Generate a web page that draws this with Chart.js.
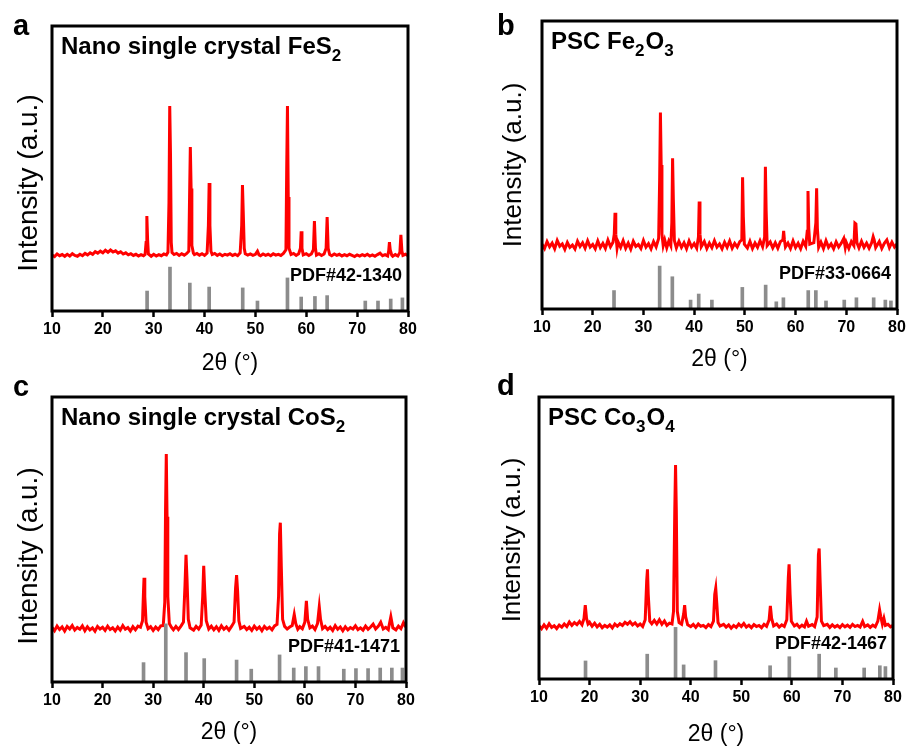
<!DOCTYPE html>
<html>
<head>
<meta charset="utf-8">
<script src="https://cdn.jsdelivr.net/npm/chart.js@4.4.0/dist/chart.umd.min.js"></script>
<style>
  body { margin: 0; background: #fff; }
  #wrap { position: relative; width: 909px; height: 751px; }
  canvas { position: absolute; left: 0; top: 0; }
</style>
</head>
<body>
<div id="wrap">
  <canvas id="chartA" width="909" height="751"></canvas>
  <canvas id="chartB" width="909" height="751"></canvas>
  <canvas id="chartC" width="909" height="751"></canvas>
  <canvas id="chartD" width="909" height="751"></canvas>
</div>
<script>
// Zakres osi 2θ
const twoThetaMin = 10;
const twoThetaMax = 80;
const twoThetaStep = 10;

// a - FeS2: zmierzony dyfraktogram [2θ, intensywność]
const feS2Pattern = [
  [10.0, 19.6], [10.5, 19.1], [11.0, 20.0], [11.5, 19.4], [12.0, 19.8], [12.5, 19.2], [13.0, 19.9], [13.5, 19.3],
  [14.0, 20.1], [14.5, 19.5], [15.0, 19.2], [15.5, 19.9], [16.0, 19.4], [16.5, 20.2], [17.0, 19.7], [17.5, 20.4],
  [18.0, 19.9], [18.5, 20.8], [19.0, 20.3], [19.5, 21.0], [20.0, 20.4], [20.5, 21.3], [21.0, 20.6], [21.5, 21.4],
  [22.0, 20.7], [22.5, 21.1], [23.0, 20.3], [23.5, 20.8], [24.0, 20.0], [24.5, 20.4], [25.0, 19.7], [25.5, 20.1],
  [26.0, 19.5], [26.5, 19.9], [27.0, 19.3], [27.5, 19.8], [28.0, 19.4], [28.3, 19.8], [28.5, 24.0], [28.65, 33.3],
  [28.8, 25.0], [28.95, 20.0], [29.5, 19.2], [30.0, 19.9], [30.5, 19.3], [31.0, 19.8], [31.5, 19.4], [32.0, 20.0],
  [32.5, 19.7], [32.8, 20.6], [33.0, 38.0], [33.15, 71.9], [33.3, 55.0], [33.45, 24.0], [33.6, 20.5], [34.0, 19.8],
  [34.5, 20.2], [35.0, 19.5], [35.5, 20.1], [36.0, 19.6], [36.5, 20.2], [36.9, 21.0], [37.05, 40.0], [37.2, 57.5],
  [37.35, 43.0], [37.5, 23.0], [37.8, 20.3], [38.0, 19.8], [38.5, 20.2], [39.0, 19.6], [39.5, 20.1], [40.0, 19.5],
  [40.5, 20.3], [40.75, 30.0], [40.9, 44.9], [41.05, 30.0], [41.25, 21.0], [41.5, 19.8], [42.0, 20.2], [42.5, 19.5],
  [43.0, 20.0], [43.5, 19.4], [44.0, 19.9], [44.5, 19.6], [45.0, 20.1], [45.5, 19.5], [46.0, 19.9], [46.5, 19.4],
  [47.0, 20.4], [47.3, 30.0], [47.45, 44.2], [47.6, 35.0], [47.8, 22.0], [48.0, 20.1], [48.5, 19.6], [49.0, 20.0],
  [49.5, 19.5], [50.0, 19.9], [50.4, 21.0], [50.7, 19.7], [51.0, 19.4], [51.5, 20.0], [52.0, 19.5], [52.5, 19.9],
  [53.0, 19.4], [53.5, 20.1], [54.0, 19.6], [54.5, 19.9], [55.0, 19.5], [55.5, 20.2], [56.0, 21.5], [56.15, 50.0],
  [56.3, 71.9], [56.45, 40.0], [56.6, 22.0], [57.0, 19.8], [57.5, 20.2], [58.0, 19.5], [58.5, 20.1], [58.85, 22.0],
  [59.0, 28.0], [59.15, 22.0], [59.4, 19.7], [60.0, 20.1], [60.5, 19.5], [61.0, 20.0], [61.4, 21.5], [61.6, 31.6],
  [61.8, 22.0], [62.0, 19.6], [62.5, 20.1], [63.0, 19.5], [63.5, 20.0], [63.9, 22.0], [64.1, 33.0], [64.3, 22.0],
  [64.6, 19.8], [65.0, 19.4], [65.5, 20.0], [66.0, 19.5], [66.5, 19.9], [67.0, 19.3], [67.5, 19.8], [68.0, 19.4],
  [68.5, 19.9], [69.0, 19.5], [69.5, 19.1], [70.0, 19.7], [70.5, 19.3], [71.0, 19.8], [71.5, 19.4], [72.0, 19.9],
  [72.5, 19.3], [73.0, 19.7], [73.5, 19.2], [74.0, 19.8], [74.5, 20.3], [75.0, 19.4], [75.5, 19.8], [76.0, 19.3],
  [76.2, 21.0], [76.35, 24.2], [76.5, 21.5], [76.8, 19.6], [77.0, 19.2], [77.5, 19.8], [78.0, 19.3], [78.4, 20.5],
  [78.6, 26.7], [78.8, 21.0], [79.0, 19.5], [79.5, 19.9], [80.0, 19.4]
];
// a - karta wzorcowa PDF#42-1340
const feS2RefPos = [28.7, 33.2, 37.1, 40.9, 47.5, 50.4, 56.3, 59.0, 61.7, 64.1, 71.6, 74.1, 76.6, 78.9];
const feS2RefInt = [7.0, 15.4, 9.8, 8.4, 8.1, 3.5, 11.6, 4.9, 5.1, 5.4, 3.5, 3.5, 4.2, 4.6];

// b - Fe2O3
const fe2O3Pattern = [
  [10.0, 22.5], [10.5, 21.0], [11.0, 23.4], [11.5, 21.6], [12.0, 22.9], [12.5, 20.9], [13.0, 23.8], [13.5, 21.8],
  [14.0, 22.6], [14.5, 20.7], [15.0, 23.1], [15.5, 21.4], [16.0, 22.2], [16.5, 20.8], [17.0, 23.5], [17.5, 21.7],
  [18.0, 23.0], [18.5, 21.1], [19.0, 23.7], [19.5, 21.5], [20.0, 22.4], [20.5, 20.9], [21.0, 23.6], [21.5, 21.3],
  [22.0, 22.8], [22.5, 21.0], [23.0, 23.9], [23.5, 21.6], [24.0, 23.2], [24.25, 26.0], [24.4, 33.4], [24.55, 26.0],
  [24.8, 21.2], [25.0, 23.3], [25.5, 21.4], [26.0, 23.7], [26.5, 21.1], [27.0, 22.9], [27.5, 20.8], [28.0, 23.5],
  [28.5, 21.7], [29.0, 22.4], [29.5, 21.0], [30.0, 23.8], [30.5, 21.5], [31.0, 22.7], [31.5, 20.9], [32.0, 23.4],
  [32.5, 21.6], [33.0, 24.5], [33.2, 45.0], [33.35, 68.2], [33.5, 50.0], [33.65, 26.0], [33.9, 22.0], [34.2, 24.0],
  [34.6, 21.3], [35.0, 23.6], [35.4, 22.0], [35.6, 30.0], [35.75, 52.3], [35.9, 38.0], [36.1, 23.8], [36.5, 21.2],
  [37.0, 23.5], [37.5, 21.4], [38.0, 23.0], [38.5, 20.9], [39.0, 23.6], [39.5, 21.5], [40.0, 22.7], [40.5, 21.1],
  [40.85, 25.0], [41.0, 37.3], [41.15, 26.0], [41.4, 21.6], [42.0, 23.4], [42.5, 21.0], [43.0, 22.9], [43.5, 21.3],
  [44.0, 23.7], [44.5, 21.5], [45.0, 22.6], [45.5, 20.9], [46.0, 23.2], [46.5, 21.4], [47.0, 23.6], [47.5, 21.1],
  [48.0, 22.8], [48.5, 21.5], [49.0, 23.4], [49.4, 24.0], [49.55, 45.7], [49.7, 32.0], [49.9, 22.5], [50.5, 21.2],
  [51.0, 23.5], [51.5, 21.0], [52.0, 22.9], [52.5, 21.4], [53.0, 23.7], [53.5, 21.6], [53.9, 25.0], [54.05, 49.4],
  [54.2, 34.0], [54.4, 22.0], [55.0, 23.3], [55.5, 21.2], [56.0, 23.0], [56.5, 21.1], [57.0, 23.4], [57.5, 24.0],
  [57.65, 27.1], [57.8, 24.0], [58.0, 21.5], [58.5, 22.9], [59.0, 21.0], [59.5, 23.6], [60.0, 21.3], [60.5, 22.8],
  [61.0, 20.9], [61.5, 23.5], [62.0, 21.8], [62.3, 27.0], [62.45, 41.0], [62.6, 28.0], [62.8, 22.5], [63.6, 23.0],
  [64.0, 30.0], [64.15, 41.9], [64.3, 28.0], [64.55, 21.4], [65.0, 23.2], [65.5, 21.0], [66.0, 23.7], [66.5, 21.4],
  [67.0, 22.6], [67.5, 20.9], [68.0, 23.3], [68.5, 21.5], [69.0, 22.8], [69.5, 24.5], [69.8, 21.3], [70.0, 23.1],
  [70.5, 21.0], [71.0, 23.4], [71.5, 22.0], [71.7, 29.8], [71.9, 29.5], [72.1, 23.0], [72.5, 21.2], [73.0, 23.5],
  [73.5, 21.4], [74.0, 22.9], [74.5, 21.1], [75.0, 23.0], [75.3, 25.1], [75.5, 24.0], [75.8, 21.3], [76.5, 23.4],
  [77.0, 21.0], [77.5, 22.8], [78.0, 24.0], [78.5, 21.3], [79.0, 23.2], [79.5, 21.5], [80.0, 22.6]
];
// b - karta wzorcowa PDF#33-0664
const fe2O3RefPos = [24.2, 33.2, 35.7, 39.3, 40.9, 43.5, 49.5, 54.1, 56.2, 57.6, 62.5, 64.0, 66.0, 69.6, 72.0, 75.4, 77.7, 78.8];
const fe2O3RefInt = [6.4, 14.9, 11.2, 3.1, 5.2, 3.1, 7.5, 8.3, 2.5, 3.9, 6.4, 6.4, 2.8, 3.1, 3.9, 3.9, 3.1, 2.8];

// c - CoS2
const coS2Pattern = [
  [10.0, 19.2], [10.5, 18.0], [11.0, 19.6], [11.5, 18.4], [12.0, 19.3], [12.5, 17.9], [13.0, 19.5], [13.5, 18.6],
  [14.0, 19.8], [14.5, 18.2], [15.0, 19.1], [15.5, 18.5], [16.0, 19.7], [16.5, 18.0], [17.0, 19.4], [17.5, 18.3],
  [18.0, 19.0], [18.5, 17.8], [19.0, 19.5], [19.5, 18.6], [20.0, 19.2], [20.5, 18.1], [21.0, 19.6], [21.5, 18.4],
  [22.0, 19.0], [22.5, 17.9], [23.0, 19.3], [23.5, 18.2], [24.0, 19.8], [24.5, 18.5], [25.0, 19.1], [25.5, 17.9],
  [26.0, 19.4], [26.5, 18.3], [27.0, 19.6], [27.5, 19.2], [27.9, 21.5], [28.1, 32.0], [28.2, 36.6], [28.35, 30.0],
  [28.6, 21.0], [29.0, 18.7], [29.5, 19.4], [30.0, 18.1], [30.5, 19.3], [31.0, 18.4], [31.5, 19.7], [32.0, 19.8],
  [32.3, 28.0], [32.45, 60.0], [32.6, 80.0], [32.75, 58.0], [32.9, 30.0], [33.2, 20.5], [33.6, 19.2], [34.0, 18.3],
  [34.5, 19.5], [35.0, 18.4], [35.5, 19.6], [36.0, 21.0], [36.3, 34.0], [36.5, 44.6], [36.7, 36.0], [36.95, 22.0],
  [37.3, 19.0], [38.0, 18.2], [38.5, 19.5], [39.0, 18.6], [39.5, 20.0], [39.8, 30.0], [40.0, 40.8], [40.2, 32.0],
  [40.5, 21.5], [41.0, 18.6], [41.5, 19.6], [42.0, 18.3], [42.5, 19.4], [43.0, 18.1], [43.5, 19.7], [44.0, 18.5],
  [44.5, 19.3], [45.0, 18.2], [45.5, 19.5], [46.0, 21.0], [46.3, 33.0], [46.5, 37.5], [46.7, 32.0], [46.95, 21.5],
  [47.3, 18.8], [48.0, 19.5], [48.5, 18.4], [49.0, 19.2], [49.5, 18.1], [50.0, 19.6], [50.5, 18.5], [51.0, 19.3],
  [51.5, 18.0], [52.0, 19.5], [52.5, 18.6], [53.0, 19.2], [53.5, 18.3], [54.0, 19.7], [54.5, 20.2], [54.8, 30.0],
  [55.0, 52.0], [55.15, 55.9], [55.35, 40.0], [55.6, 22.0], [56.0, 19.5], [56.5, 18.6], [57.0, 19.3], [57.5, 19.8],
  [57.9, 23.7], [58.2, 20.5], [58.6, 18.5], [59.0, 19.4], [59.5, 18.7], [60.0, 21.0], [60.3, 28.5], [60.55, 22.0],
  [61.0, 19.0], [61.5, 19.6], [62.0, 18.4], [62.5, 20.5], [62.85, 26.4], [63.1, 22.0], [63.5, 18.7], [64.0, 19.5],
  [64.5, 18.4], [65.0, 19.2], [65.5, 18.1], [66.0, 19.8], [66.5, 18.5], [67.0, 19.3], [67.5, 18.0], [68.0, 19.4],
  [68.5, 18.3], [69.0, 19.1], [69.5, 18.6], [70.0, 19.7], [70.5, 18.4], [71.0, 19.0], [71.5, 18.2], [72.0, 19.6],
  [72.5, 18.5], [73.0, 19.3], [73.5, 20.3], [74.0, 18.6], [74.5, 19.5], [75.0, 21.0], [75.5, 18.6], [76.0, 19.2],
  [76.5, 18.4], [77.0, 22.9], [77.4, 19.0], [78.0, 18.3], [78.5, 19.6], [79.0, 18.7], [79.5, 20.8], [80.0, 19.2]
];
// c - karta wzorcowa PDF#41-1471
const coS2RefPos = [28.1, 32.5, 36.5, 40.1, 46.5, 49.4, 55.0, 57.8, 60.2, 62.7, 67.7, 70.1, 72.5, 74.9, 77.2, 79.3];
const coS2RefInt = [6.8, 20.4, 10.3, 8.2, 7.7, 4.5, 9.5, 4.9, 5.4, 5.4, 4.5, 4.7, 4.7, 4.9, 4.9, 4.9];

// d - Co3O4
const co3O4Pattern = [
  [10.0, 18.9], [10.5, 17.8], [11.0, 19.2], [11.5, 18.0], [12.0, 19.6], [12.5, 18.3], [13.0, 18.9], [13.5, 17.9],
  [14.0, 19.1], [14.5, 18.4], [15.0, 19.5], [15.5, 18.6], [16.0, 20.2], [16.5, 19.0], [17.0, 20.0], [17.5, 19.3],
  [18.0, 20.4], [18.5, 19.2], [18.9, 21.5], [19.15, 26.2], [19.4, 21.5], [19.7, 19.5], [20.0, 20.1], [20.5, 18.7],
  [21.0, 19.8], [21.5, 18.5], [22.0, 19.4], [22.5, 18.2], [23.0, 19.0], [23.5, 18.4], [24.0, 19.2], [24.5, 18.1],
  [25.0, 19.5], [25.5, 18.7], [26.0, 19.6], [26.5, 19.0], [27.0, 20.1], [27.5, 19.4], [28.0, 20.3], [28.5, 19.2],
  [29.0, 19.9], [29.5, 18.8], [30.0, 19.5], [30.5, 18.6], [31.0, 21.0], [31.3, 35.0], [31.45, 38.9], [31.6, 30.0],
  [31.9, 20.5], [32.3, 19.6], [32.8, 20.8], [33.3, 19.5], [33.8, 21.0], [34.3, 19.4], [34.8, 20.6], [35.3, 19.0],
  [35.8, 19.8], [36.3, 19.5], [36.6, 24.0], [36.85, 60.0], [37.0, 75.9], [37.15, 60.0], [37.35, 24.0], [37.7, 20.0],
  [38.2, 19.4], [38.6, 23.0], [38.8, 26.2], [39.0, 22.0], [39.4, 19.2], [40.0, 18.6], [40.5, 19.4], [41.0, 18.3],
  [41.5, 19.5], [42.0, 18.7], [42.5, 19.0], [43.0, 18.2], [43.5, 19.3], [44.0, 18.6], [44.5, 20.5], [44.75, 30.0],
  [44.95, 32.2], [45.15, 27.0], [45.4, 20.0], [45.8, 18.8], [46.5, 19.4], [47.0, 18.4], [47.5, 19.2], [48.0, 18.0],
  [48.5, 19.0], [49.0, 18.3], [49.5, 19.5], [50.0, 18.6], [50.5, 19.7], [51.0, 18.4], [51.5, 19.1], [52.0, 18.2],
  [52.5, 19.3], [53.0, 18.6], [53.5, 19.0], [54.0, 18.2], [54.5, 19.4], [55.0, 18.7], [55.5, 21.0], [55.75, 25.9],
  [56.0, 21.5], [56.4, 18.8], [57.0, 19.5], [57.5, 18.4], [58.0, 19.2], [58.5, 18.6], [59.0, 21.0], [59.3, 36.0],
  [59.45, 40.7], [59.65, 30.0], [59.9, 20.5], [60.5, 18.8], [61.0, 19.4], [61.5, 18.3], [62.0, 19.1], [62.5, 18.5],
  [62.9, 20.5], [63.3, 18.7], [64.0, 19.3], [64.5, 18.6], [65.0, 22.0], [65.25, 44.0], [65.4, 46.3], [65.6, 34.0],
  [65.85, 20.5], [66.3, 18.9], [67.0, 19.4], [67.5, 18.3], [68.0, 19.2], [68.5, 18.4], [69.0, 19.0], [69.5, 18.2],
  [70.0, 19.3], [70.5, 18.5], [71.0, 19.1], [71.5, 18.3], [72.0, 19.4], [72.5, 18.6], [73.0, 19.0], [73.5, 18.4],
  [74.0, 20.4], [74.4, 18.6], [75.0, 19.2], [75.5, 18.3], [76.0, 19.1], [76.5, 18.5], [77.0, 20.5], [77.35, 24.5],
  [77.6, 22.0], [77.9, 19.5], [78.2, 21.5], [78.5, 19.0], [79.0, 19.4], [79.5, 18.5], [80.0, 19.0]
];
// d - karta wzorcowa PDF#42-1467
const co3O4RefPos = [19.2, 31.4, 37.0, 38.6, 44.9, 55.7, 59.5, 65.4, 68.7, 74.3, 77.4, 78.5];
const co3O4RefInt = [6.4, 8.8, 18.3, 5.0, 6.5, 4.7, 7.9, 8.8, 3.9, 3.9, 4.7, 4.4];

const FONT = "'Liberation Sans', Arial, Helvetica, sans-serif";
const PAGE_W = 909, PAGE_H = 751;

// Ramka, litera panelu, opis osi Y, opis próbki i numer karty PDF
const panelDecor = {
  id: 'panelDecor',
  afterDraw(chart, args, opts) {
    const { ctx, chartArea: a } = chart;
    ctx.save();
    ctx.strokeStyle = '#000';
    ctx.lineWidth = 3;
    ctx.strokeRect(a.left, a.top, a.right - a.left, a.bottom - a.top);

    ctx.fillStyle = '#000';
    ctx.textBaseline = 'alphabetic';
    ctx.textAlign = 'left';
    ctx.font = `bold 29px ${FONT}`;
    ctx.fillText(opts.letter, opts.letterX, opts.letterY);

    let x = a.left + 9;
    const y = a.top + 28;
    opts.title.forEach(([txt, sub]) => {
      ctx.font = sub ? `bold 17px ${FONT}` : `bold 24px ${FONT}`;
      ctx.fillText(txt, x, sub ? y + 7 : y);
      x += ctx.measureText(txt).width + (sub ? 1 : 0);
    });

    ctx.font = `bold 18px ${FONT}`;
    ctx.textAlign = 'right';
    ctx.fillText(opts.pdf, a.right - 6, a.bottom - 30);

    // opis osi Y (obrócony)
    ctx.save();
    ctx.translate(opts.yTitleX, opts.yTitleY);
    ctx.rotate(-Math.PI / 2);
    ctx.textAlign = 'center';
    ctx.textBaseline = 'middle';
    ctx.font = `${opts.yTitleSize}px ${FONT}`;
    ctx.fillText('Intensity (a.u.)', 0, 0);
    ctx.restore();

    ctx.restore();
  }
};

function makePanel(canvasId, p) {
  const ctx = document.getElementById(canvasId).getContext('2d');
  const padLeft = p.left - 50;
  const axisBottom = p.bottom + 70;

  return new Chart(ctx, {
    type: 'line',
    data: {
      datasets: [
        {
          type: 'bar',
          data: p.refPos.map((x, i) => ({ x: x, y: p.refInt[i] })),
          backgroundColor: '#8c8c8c',
          barThickness: 3,
          order: 0
        },
        {
          type: 'line',
          data: p.pattern.map(pt => ({ x: pt[0], y: pt[1] })),
          borderColor: '#ff0000',
          borderWidth: 3,
          pointRadius: 0,
          tension: 0,
          order: 1
        }
      ]
    },
    options: {
      responsive: false,
      animation: false,
      layout: {
        padding: { left: padLeft, top: p.top, right: PAGE_W - p.right, bottom: PAGE_H - axisBottom }
      },
      plugins: {
        legend: { display: false },
        tooltip: { enabled: false },
        panelDecor: {
          letter: p.letter, letterX: p.letterX, letterY: p.letterY, title: p.title, pdf: p.pdf,
          yTitleX: p.yTitleX, yTitleY: p.yTitleY, yTitleSize: p.yTitleSize
        }
      },
      scales: {
        x: {
          type: 'linear',
          min: twoThetaMin,
          max: twoThetaMax,
          offset: false,
          ticks: {
            stepSize: twoThetaStep,
            color: '#000',
            padding: 3,
            maxRotation: 0,
            font: { family: FONT, size: 16, weight: 'bold' }
          },
          grid: { offset: false, drawOnChartArea: false, tickLength: 6, tickWidth: 2.5, tickColor: '#000' },
          border: { display: false },
          title: {
            display: true,
            text: '2θ (°)',
            color: '#000',
            font: { family: FONT, size: 23 },
            padding: { top: 0, bottom: axisBottom - 13.8 - p.xTitleY }
          },
          afterFit: scale => { scale.height = 70; }
        },
        y: {
          min: 0,
          max: 100,
          ticks: { display: false },
          grid: { display: false },
          border: { display: false },
          title: { display: false },
          afterFit: scale => { scale.width = 50; }
        }
      }
    },
    plugins: [panelDecor]
  });
}

makePanel('chartA', {
  pattern: feS2Pattern, refPos: feS2RefPos, refInt: feS2RefInt,
  title: [['Nano single crystal FeS', false], ['2', true]], pdf: 'PDF#42-1340',
  letter: 'a', letterX: 13, letterY: 35,
  left: 52, right: 408, top: 26, bottom: 311, xTitleY: 364,
  yTitleX: 29, yTitleY: 183, yTitleSize: 28
});

makePanel('chartB', {
  pattern: fe2O3Pattern, refPos: fe2O3RefPos, refInt: fe2O3RefInt,
  title: [['PSC Fe', false], ['2', true], ['O', false], ['3', true]], pdf: 'PDF#33-0664',
  letter: 'b', letterX: 497, letterY: 35,
  left: 542, right: 897, top: 21, bottom: 309, xTitleY: 360,
  yTitleX: 514, yTitleY: 165, yTitleSize: 26
});

makePanel('chartC', {
  pattern: coS2Pattern, refPos: coS2RefPos, refInt: coS2RefInt,
  title: [['Nano single crystal CoS', false], ['2', true]], pdf: 'PDF#41-1471',
  letter: 'c', letterX: 13, letterY: 396,
  left: 52, right: 406, top: 397, bottom: 682, xTitleY: 733,
  yTitleX: 29, yTitleY: 556, yTitleSize: 28
});

makePanel('chartD', {
  pattern: co3O4Pattern, refPos: co3O4RefPos, refInt: co3O4RefInt,
  title: [['PSC Co', false], ['3', true], ['O', false], ['4', true]], pdf: 'PDF#42-1467',
  letter: 'd', letterX: 497, letterY: 395,
  left: 539, right: 893, top: 397, bottom: 679, xTitleY: 735,
  yTitleX: 513, yTitleY: 540, yTitleSize: 26
});
</script>
</body>
</html>
